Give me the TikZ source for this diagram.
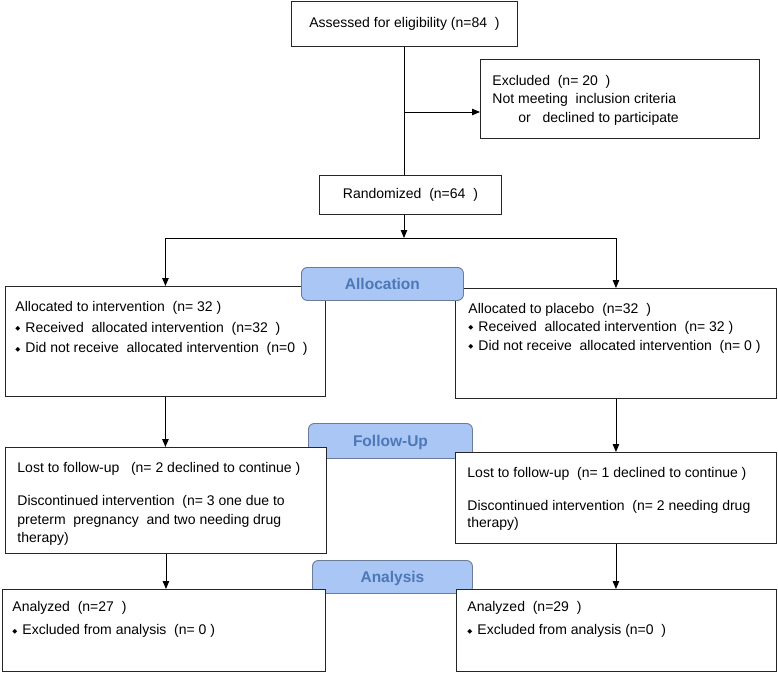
\documentclass[tikz,border=0pt]{standalone}
\usepackage{fontspec}
\setmainfont{Liberation Sans}
\newfontfamily\symfont{DejaVu Sans}
\usetikzlibrary{arrows.meta}

\definecolor{tabfill}{HTML}{A9C6F5}
\definecolor{tabtext}{HTML}{4C78B8}
\definecolor{tabline}{HTML}{6B7C99}
\newcommand{\bul}{\raisebox{1.6pt}{\symfont\fontsize{6.5}{7}\selectfont ◆}\hspace{5pt}}

\tikzset{
  box/.style={draw=black!85, fill=white, line width=0.9pt, inner sep=0pt, anchor=north west},
  txt/.style={anchor=north west, inner sep=0pt, align=left},
  tab/.style={draw=tabline, fill=tabfill, text=tabtext, rounded corners=6pt, line width=0.9pt,
    inner sep=0pt, anchor=north west, text height=11.5pt, text depth=0pt,
    font=\bfseries\fontsize{15.5}{18}\selectfont},
  >={Triangle[length=8pt,width=6.5pt]}
}

\begin{document}
\begin{tikzpicture}[x=1pt, y=-1pt, line width=0.9pt]
  \useasboundingbox (0,0) rectangle (778,673);
  \draw
    (308,423) node[tab, minimum width=164pt, minimum height=35pt] (followtab) {Follow-Up}
    (312,560) node[tab, minimum width=160pt, minimum height=33pt] (analtab) {Analysis};
  \draw
    (291,1) node[box, minimum width=226pt, minimum height=45pt, font=\fontsize{14}{16}\selectfont] (assessed) {Assessed for eligibility (n=84\ \ )}
    (480,59) node[box, minimum width=279pt, minimum height=79pt] (excluded) {}
    (319,175) node[box, minimum width=182pt, minimum height=39pt, font=\fontsize{14}{16}\selectfont] (randomized) {Randomized\ \ (n=64\ \ )}
    (5,286) node[box, minimum width=320pt, minimum height=110pt] (lalloc) {}
    (455,288) node[box, minimum width=321pt, minimum height=110pt] (ralloc) {}
    (5,447) node[box, minimum width=321pt, minimum height=106pt] (lfollow) {}
    (455,452) node[box, minimum width=321pt, minimum height=91pt] (rfollow) {}
    (2,589) node[box, minimum width=323pt, minimum height=82pt] (lanal) {}
    (456,589) node[box, minimum width=320pt, minimum height=82pt] (ranal) {};
  \draw
    (301,267) node[tab, minimum width=162pt, minimum height=33pt] (alloctab) {Allocation};

  \node[txt, font=\fontsize{14}{18.7}\selectfont] (exctext) at (492,74.5)
    {Excluded\ \ (n= 20\ \ )\\ Not meeting\ \ inclusion criteria\\ \hspace{26pt}or\ \ \ declined to participate};
  \node[txt, font=\fontsize{14}{20.8}\selectfont] (lalloctext) at (15,300.7)
    {Allocated to intervention\ \ (n= 32 )\\ \bul Received\ \ allocated intervention\ \ (n=32\ \ )\\ \bul Did not receive\ \ allocated intervention\ \ (n=0\ \ )};
  \node[txt, font=\fontsize{14}{17.5}\selectfont] (ralloctext) at (468,303)
    {Allocated to placebo\ \ (n=32\ \ )\\ \bul Received\ \ allocated intervention\ \ (n= 32 )\\[1.5pt] \bul Did not receive\ \ allocated intervention\ \ (n= 0 )};
  \node[txt, font=\fontsize{14}{18.5}\selectfont] (lfollowtext) at (17,462)
    {Lost to follow-up\ \ \ (n= 2 declined to continue )\\[14.5pt] Discontinued intervention\ \ (n= 3 one due to\\ preterm\ \ pregnancy\ \ and two needing drug\\ therapy)};
  \node[txt, font=\fontsize{14}{17}\selectfont] (rfollowtext) at (467,467)
    {Lost to follow-up\ \ (n= 1 declined to continue )\\[16pt] Discontinued intervention\ \ (n= 2 needing drug\\ therapy)};
  \node[txt, font=\fontsize{14}{23}\selectfont] (lanaltext) at (12,601)
    {Analyzed\ \ (n=27\ \ )\\ \bul Excluded from analysis\ \ (n= 0 )};
  \node[txt, font=\fontsize{14}{23}\selectfont] (ranaltext) at (467,601)
    {Analyzed\ \ (n=29\ \ )\\ \bul Excluded from analysis (n=0\ \ )};

  \coordinate (exarrow) at (404,112);
  \coordinate (split) at (404,238);
  \draw (assessed.south) -- (assessed.south |- randomized.north);
  \begin{scope}[->]
    \draw (exarrow) -- (exarrow -| excluded.west);
    \draw (split |- randomized.south) -- (split);
    \draw (split) -| (lalloc.north);
    \draw (split) -| (ralloc.north);
    \draw (lalloc.south) -- (lalloc.south |- lfollow.north);
    \draw (ralloc.south) -- (ralloc.south |- rfollow.north);
    \draw (lfollow.south) -- (lfollow.south |- lanal.north);
    \draw (rfollow.south) -- (rfollow.south |- ranal.north);
  \end{scope}
\end{tikzpicture}
\end{document}
